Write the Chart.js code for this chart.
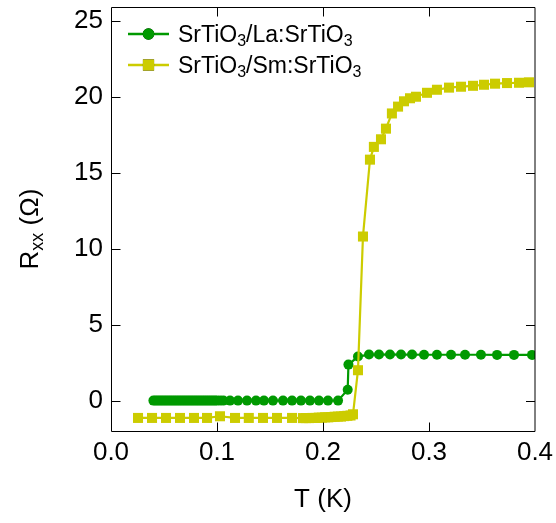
<!DOCTYPE html>
<html>
<head>
<meta charset="utf-8">
<script src="https://cdn.jsdelivr.net/npm/chart.js@4.4.0/dist/chart.umd.min.js"></script>
<style>
html, body { margin: 0; padding: 0; background: #fff; }
</style>
</head>
<body>
<canvas id="myChart" width="556" height="523"></canvas>
<script>
// SrTiO3/La:SrTiO3  (circles)
const tLa = [0.040, 0.042, 0.044, 0.046, 0.048, 0.050, 0.052, 0.054, 0.056, 0.058,
             0.060, 0.062, 0.064, 0.066, 0.068, 0.070, 0.072, 0.074, 0.076, 0.078,
             0.080, 0.082, 0.084, 0.086, 0.088, 0.090, 0.092, 0.094, 0.096, 0.098,
             0.100, 0.103, 0.106, 0.1123, 0.1198, 0.1283, 0.1368, 0.1443, 0.1528, 0.1623,
             0.1708, 0.1792, 0.1877, 0.1962, 0.2047, 0.2142, 0.2233, 0.2240, 0.2330, 0.2434,
             0.2528, 0.2632, 0.2736, 0.2840, 0.2953, 0.3075, 0.3208, 0.3340, 0.3490, 0.3642,
             0.3802, 0.3972];
const rLa = [0, 0, 0, 0, 0, 0, 0, 0, 0, 0,
             0, 0, 0, 0, 0, 0, 0, 0, 0, 0,
             0, 0, 0, 0, 0, 0, 0, 0, 0, 0,
             0, 0, 0, 0, 0, 0, 0, 0, 0, 0,
             0, 0, 0, 0, 0, 0, 0.72, 2.37, 2.9, 3.03,
             3.03, 3.04, 3.03, 3.03, 3.02, 3.02, 3.02, 3.02, 3.02, 3.01,
             3.01, 3.01];

// SrTiO3/Sm:SrTiO3  (squares)
const tSm = [0.0255, 0.0387, 0.0519, 0.0651, 0.0783, 0.0906, 0.1028, 0.117, 0.130, 0.1434,
             0.1566, 0.1708, 0.1811, 0.1840, 0.1870, 0.1900, 0.1930, 0.1960, 0.1990, 0.2020,
             0.2050, 0.2080, 0.2110, 0.2140, 0.2170, 0.2200, 0.2230, 0.2260, 0.2283, 0.2330,
             0.2377, 0.2443, 0.2480, 0.2547, 0.2594, 0.2650, 0.2708, 0.2764, 0.2821, 0.2877,
             0.2981, 0.3075, 0.3189, 0.3302, 0.3415, 0.3519, 0.3623, 0.3736, 0.3849, 0.3943];
const rSm = [-1.14, -1.14, -1.14, -1.14, -1.14, -1.14, -1.03, -1.14, -1.14, -1.14,
             -1.14, -1.14, -1.15, -1.15, -1.15, -1.14, -1.14, -1.12, -1.12, -1.1,
             -1.1, -1.08, -1.06, -1.05, -1.05, -1.02, -1.0, -0.98, -0.9, 2.0,
             10.8, 15.86, 16.7, 17.2, 17.9, 18.9, 19.35, 19.7, 19.9, 20.0,
             20.26, 20.46, 20.6, 20.66, 20.72, 20.79, 20.86, 20.9, 20.92, 20.95];

const seriesNames = ['SrTiO_3/La:SrTiO_3', 'SrTiO_3/Sm:SrTiO_3'];
const xTicks = [0, 0.1, 0.2, 0.3, 0.4];
const yTicks = [0, 5, 10, 15, 20, 25];
const xTitle = 'T (K)';
const yTitle = 'R_{xx} (\u03A9)';

const FONT = '"Liberation Sans", Arial, Helvetica, sans-serif';
const GREEN = '#009900';
const YELLOW = '#cccc00';

function pairs(xs, ys) {
    return xs.map(function (x, i) { return {x: x, y: ys[i]}; });
}

// split "SrTiO_3" / "R_{xx}" into normal and subscript pieces
function richParts(s) {
    var parts = [], buf = '', i = 0;
    while (i < s.length) {
        if (s[i] === '_') {
            if (buf) { parts.push({t: buf, sub: false}); buf = ''; }
            if (s[i + 1] === '{') {
                var j = s.indexOf('}', i);
                parts.push({t: s.slice(i + 2, j), sub: true});
                i = j + 1;
            } else {
                parts.push({t: s[i + 1], sub: true});
                i += 2;
            }
        } else {
            buf += s[i];
            i++;
        }
    }
    if (buf) parts.push({t: buf, sub: false});
    return parts;
}

function drawRich(ctx, s, x, y, size, center) {
    var parts = richParts(s);
    var subSize = Math.round(size * 0.68);
    var w = 0;
    parts.forEach(function (p) {
        ctx.font = (p.sub ? subSize : size) + 'px ' + FONT;
        p.w = ctx.measureText(p.t).width;
        w += p.w;
    });
    var cx = center ? x - w / 2 : x;
    ctx.textAlign = 'left';
    ctx.textBaseline = 'alphabetic';
    ctx.fillStyle = '#000';
    parts.forEach(function (p) {
        ctx.font = (p.sub ? subSize : size) + 'px ' + FONT;
        ctx.fillText(p.t, cx, p.sub ? y + size * 0.19 : y);
        cx += p.w;
    });
}

const decor = {
    id: 'decor',
    afterDraw: function (chart) {
        var ctx = chart.ctx;
        var a = chart.chartArea;
        var xs = chart.scales.x, ys = chart.scales.y;
        var L = Math.round(a.left) + 0.5, R = Math.round(a.right),
            T = Math.round(a.top) + 0.5, B = Math.round(a.bottom) + 0.5;
        ctx.save();

        // box
        ctx.strokeStyle = '#000';
        ctx.lineWidth = 1;
        ctx.beginPath();
        ctx.moveTo(R, T); ctx.lineTo(L, T); ctx.lineTo(L, B); ctx.lineTo(R, B); ctx.lineTo(R, T);
        ctx.stroke();

        // inward ticks on all four sides
        var tl = 9;
        ctx.beginPath();
        xTicks.forEach(function (v) {
            var px = Math.round(xs.getPixelForValue(v)) + 0.5;
            if (px <= L + 1 || px >= R - 1) return;
            ctx.moveTo(px, B); ctx.lineTo(px, B - tl);
            ctx.moveTo(px, T); ctx.lineTo(px, T + tl);
        });
        yTicks.forEach(function (v) {
            var py = Math.round(ys.getPixelForValue(v)) + 0.5;
            ctx.moveTo(L, py); ctx.lineTo(L + tl, py);
            ctx.moveTo(R, py); ctx.lineTo(R - tl, py);
        });
        ctx.stroke();

        // axis titles
        drawRich(ctx, xTitle, (a.left + a.right) / 2, 507, 26, true);
        ctx.save();
        ctx.translate(29, (a.top + a.bottom) / 2 + 10);
        ctx.rotate(-Math.PI / 2);
        drawRich(ctx, yTitle, 0, 9, 26, true);
        ctx.restore();

        // legend
        var metas = [chart.getDatasetMeta(1), chart.getDatasetMeta(0)];
        var rows = [42, 73];
        metas.forEach(function (meta, k) {
            var ds = chart.data.datasets[meta.index];
            var yy = rows[k] - 8;
            ctx.strokeStyle = ds.borderColor;
            ctx.lineWidth = 2.4;
            ctx.beginPath();
            ctx.moveTo(128, yy); ctx.lineTo(169, yy);
            ctx.stroke();
            Chart.helpers.drawPoint(ctx, {
                pointStyle: ds.pointStyle, radius: ds.pointRadius + 0.8, borderWidth: 0, rotation: 0
            }, 148.5, yy);
            ctx.fillStyle = ds.backgroundColor;
            ctx.fill();
            drawRich(ctx, seriesNames[k], 178, rows[k], 23, false);
        });

        ctx.restore();
    }
};

document.addEventListener('DOMContentLoaded', () => {
    const ctx = document.getElementById('myChart').getContext('2d');

    const data = {
        datasets: [
            {
                label: seriesNames[1],
                data: pairs(tSm, rSm),
                borderColor: YELLOW,
                backgroundColor: YELLOW,
                borderWidth: 2.2,
                pointStyle: 'rect',
                pointRadius: 7.1,
                pointBorderWidth: 0,
                showLine: true,
                order: 0,
            },
            {
                label: seriesNames[0],
                data: pairs(tLa, rLa),
                borderColor: GREEN,
                backgroundColor: GREEN,
                borderWidth: 2.2,
                pointStyle: 'circle',
                pointRadius: 5,
                pointBorderWidth: 0,
                showLine: true,
                order: 1,
            }
        ]
    };

    const config = {
        type: 'scatter',
        data: data,
        options: {
            responsive: false,
            animation: false,
            devicePixelRatio: 1,
            layout: { padding: { left: 0, top: 7, right: 21, bottom: 0 } },
            plugins: {
                legend: { display: false },
                tooltip: { enabled: false },
                title: { display: false }
            },
            scales: {
                x: {
                    type: 'linear',
                    min: 0,
                    max: 0.4,
                    afterBuildTicks: function (s) { s.ticks = xTicks.map(v => ({value: v})); },
                    afterFit: function (s) { s.height = 92; s.paddingLeft = 0; s.paddingRight = 0; },
                    grid: { display: false, drawTicks: false },
                    border: { display: false },
                    ticks: {
                        padding: 6,
                        color: '#000',
                        maxRotation: 0,
                        autoSkip: false,
                        font: { family: FONT, size: 26 },
                        callback: function (v) { return Number(v).toFixed(1); }
                    }
                },
                y: {
                    type: 'linear',
                    min: -2,
                    max: 25.9,
                    afterBuildTicks: function (s) { s.ticks = yTicks.map(v => ({value: v})); },
                    afterFit: function (s) { s.width = 111; s.paddingTop = 0; s.paddingBottom = 0; },
                    grid: { display: false, drawTicks: false },
                    border: { display: false },
                    ticks: {
                        padding: 8,
                        color: '#000',
                        font: { family: FONT, size: 26 },
                        callback: function (v) { return String(v); }
                    }
                }
            }
        },
        plugins: [decor]
    };

    var chart = new Chart(ctx, config);
});
</script>
</body>
</html>
